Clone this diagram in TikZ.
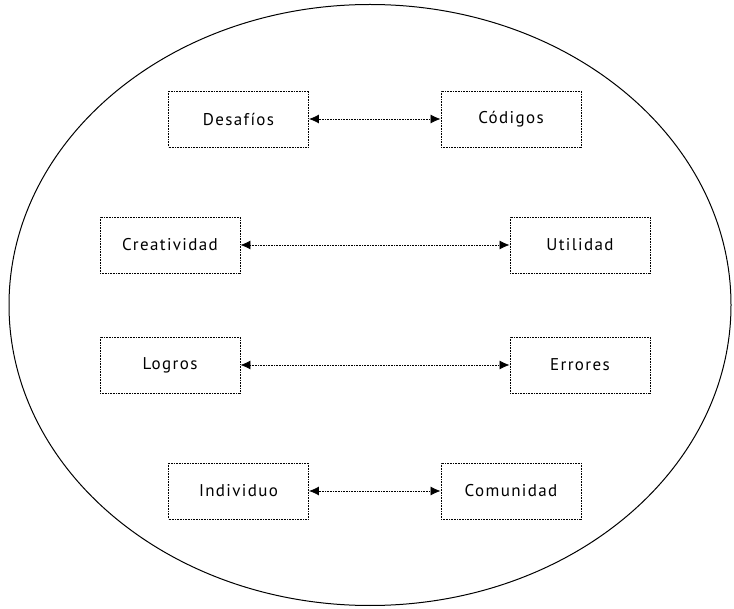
\documentclass[tikz,border=0pt]{standalone}
\usepackage{fontspec}
\setmainfont{PT Sans}[LetterSpace=8]
\usetikzlibrary{arrows.meta,shapes.geometric}
\tikzset{
  conc/.style={draw, dash pattern=on 0.9pt off 0.7pt, line width=0.9pt, minimum width=140pt, minimum height=56pt, inner sep=0pt, font=\fontsize{17}{20}\selectfont},
  link/.style={draw, dash pattern=on 0.9pt off 0.7pt, line width=0.8pt, {Latex[length=10pt,width=9pt]}-{Latex[length=10pt,width=9pt]}}
}
\begin{document}
\begin{tikzpicture}[x=1pt,y=-1pt]
\useasboundingbox (0,0) rectangle (734,609);
\node[draw, ellipse, line width=1pt, minimum width=722pt, minimum height=601pt, inner sep=0pt] (oval) at (370,305) {};
\node[conc] (desafios) at (238.5,119) {Desafíos};
\node[conc] (codigos) at (511,119) {Códigos};
\node[conc] (creatividad) at (170,245) {Creatividad};
\node[conc] (utilidad) at (580,245) {Utilidad};
\node[conc] (logros) at (170,365) {Logros};
\node[conc] (errores) at (580,365) {Errores};
\node[conc] (individuo) at (238.5,491) {Individuo};
\node[conc] (comunidad) at (511,491) {Comunidad};
\draw[link] (desafios) -- (codigos);
\draw[link] (creatividad) -- (utilidad);
\draw[link] (logros) -- (errores);
\draw[link] (individuo) -- (comunidad);
\end{tikzpicture}
\end{document}
